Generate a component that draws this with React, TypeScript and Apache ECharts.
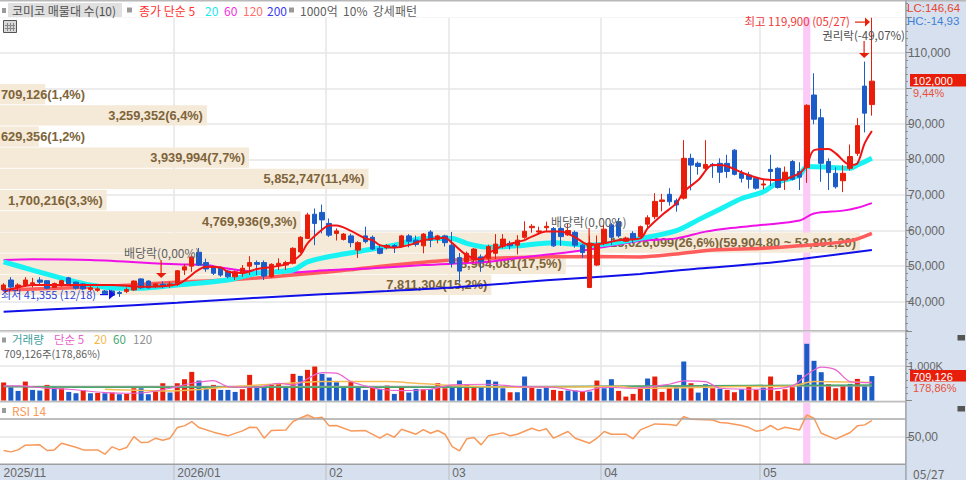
import React, { useEffect, useRef } from "react";
import * as echarts from "echarts";

const slotCount = 126;
const tickIndex = [0, 24, 45, 62, 83, 105];
const tickLabels = ["2025/11", "2026/01", "02", "03", "04", "05"];
const highlightIndex = 111;

// open, close, low, high in thousands of won
const candlesK = [
  [43.3,44.7,43.0,45.2],[46.1,44.1,43.7,46.9],[44.1,44.7,43.0,45.2],[44.7,46.1,44.2,46.9],[45.0,45.3,44.0,46.7],
  [46.1,45.5,44.9,46.9],[45.9,43.8,43.5,46.0],[44.0,45.1,43.8,45.4],[44.5,45.9,44.2,46.2],[46.7,45.0,44.6,47.0],
  [45.5,43.8,43.4,45.7],[45.0,43.6,43.2,45.2],[43.4,43.9,43.0,44.4],[43.2,43.6,42.8,44.1],[43.0,42.2,41.9,43.3],
  [43.0,41.8,41.6,43.3],[42.6,42.3,41.355,43.0],[42.9,43.4,42.4,44.0],[43.3,45.8,43.0,46.0],[46.4,43.9,43.6,46.6],
  [45.8,43.9,43.7,46.0],[44.4,45.0,43.8,45.2],[44.9,44.6,43.8,45.7],[44.5,45.0,43.9,45.6],[44.9,48.7,44.4,48.9],
  [48.9,49.8,47.5,50.6],[50.0,52.6,48.4,53.0],[53.9,50.3,50.0,55.1],[51.0,49.2,48.4,52.1],[49.8,48.0,47.5,50.1],
  [49.4,47.5,47.0,49.8],[48.6,47.0,46.6,48.9],[47.0,48.4,46.1,48.8],[48.0,49.4,47.0,50.3],[50.0,51.0,47.5,52.8],
  [51.0,50.5,47.5,51.6],[51.0,47.2,46.1,51.6],[47.0,50.5,46.7,50.8],[50.1,50.8,48.9,52.2],[50.3,51.0,48.9,51.5],
  [50.8,55.0,50.5,55.3],[54.0,58.1,53.7,58.4],[57.8,64.4,57.6,65.0],[64.6,62.0,55.9,66.2],[65.1,63.0,59.2,67.3],
  [62.0,58.7,58.2,63.4],[59.2,59.9,57.2,60.6],[57.5,59.0,57.2,59.3],[58.5,56.6,55.3,59.1],[54.5,56.6,52.3,57.0],
  [58.5,56.9,56.4,61.1],[58.1,54.8,54.5,58.6],[55.0,53.6,53.3,55.9],[55.2,55.8,54.7,56.2],[55.8,55.4,53.7,56.2],
  [55.5,58.5,55.2,58.8],[58.5,57.0,55.3,59.0],[57.3,56.1,55.5,58.6],[55.7,59.0,53.6,59.3],[59.6,57.3,55.3,60.1],
  [57.5,58.5,56.4,58.8],[58.5,56.6,55.5,58.8],[55.9,50.8,49.6,59.6],[52.4,48.6,45.3,53.7],[51.2,53.6,50.9,54.1],
  [51.9,54.8,50.9,55.1],[52.6,51.2,48.4,53.3],[52.2,55.5,50.9,56.0],[53.6,56.2,52.0,59.0],[55.6,57.6,55.0,59.0],
  [56.4,55.7,54.7,57.1],[55.9,57.3,53.3,58.7],[58.1,59.8,57.7,62.6],[60.8,61.2,59.4,61.8],[59.6,59.9,58.9,61.1],
  [60.8,61.2,59.6,62.5],[60.6,55.7,55.4,61.0],[60.6,58.3,55.7,61.1],[58.8,60.0,58.5,62.0],[59.5,55.9,55.2,60.0],
  [55.9,53.8,52.3,56.2],[44.0,56.5,43.8,58.5],[50.3,55.9,50.0,58.6],[56.4,60.4,55.9,61.6],[61.6,58.1,55.9,62.1],
  [62.5,58.5,58.0,63.5],[57.0,57.9,56.8,58.3],[59.2,57.5,56.4,59.8],[58.3,61.1,58.0,61.4],[61.8,63.6,60.6,64.3],
  [63.9,68.2,63.2,70.5],[68.2,68.6,65.4,70.3],[70.2,68.1,67.0,71.9],[68.4,67.2,65.3,69.0],[69.1,80.3,68.7,85.4],
  [80.3,78.4,71.3,81.6],[78.9,78.0,75.7,79.4],[77.5,78.6,76.9,85.4],[78.6,78.2,74.8,79.0],[78.9,76.4,73.4,80.3],
  [78.9,76.6,74.8,81.3],[82.6,75.8,75.5,82.9],[76.1,74.7,73.5,77.0],[75.6,74.4,71.8,76.5],[74.7,71.9,71.5,75.0],
  [72.8,73.1,71.6,74.2],[77.2,76.6,72.5,81.3],[77.5,72.1,71.8,77.8],[74.2,76.4,71.4,78.0],[79.4,74.4,74.1,79.8],
  [76.6,75.0,71.4,79.2],[77.7,95.2,73.4,95.5],[98.1,91.3,89.9,104.2],[91.7,78.9,73.7,94.2],[79.4,76.3,71.4,80.3],
  [76.1,72.3,71.8,77.8],[74.0,76.1,70.8,78.4],[77.5,80.8,76.9,84.2],[81.7,89.5,81.0,91.6],[100.6,93.0,87.6,107.5],
  [95.4,102.0,92.3,119.9],
];

// [candle index, value in thousands of won], as read at the line's visible turning points
const ma5K = [[0,42.8],[4,44.7],[15,44.7],[19,44.2],[24,44.9],[28,49.8],[30,49.6],[31,48.4],[33,48.1],[35,49.2],[39,50.5],[41,53.1],[42,56.4],[44,60.2],[45,61.4],[46,61.4],[48,59.9],[50,57.8],[51,57.3],[52,55.9],[54,55.2],[56,55.9],[58,57.3],[61,58.0],[62,56.5],[64,53.1],[66,51.9],[67,53.6],[69,55.7],[72,57.3],[73,58.3],[75,59.7],[77,59.7],[79,58.1],[81,55.9],[83,56.4],[85,57.3],[88,57.8],[89,60.6],[91,64.4],[93,67.7],[94,70.9],[96,74.2],[98,78.4],[100,78.1],[102,76.3],[105,74.4],[107,74.2],[110,76.1],[111,78.4],[112,82.6],[114,82.9],[115,81.7],[117,78.4],[118,78.9],[119,84.5],[120,88.0]];
const ma20K = [[0,51.2],[4,48.9],[9,46.1],[12,44.7],[16,43.8],[19,43.8],[24,44.7],[31,46.1],[35,48.0],[40,48.9],[42,51.2],[45,52.7],[49,54.1],[54,55.9],[58,57.8],[62,57.8],[64,56.4],[67,55.3],[71,55.7],[76,56.6],[81,55.9],[88,57.8],[93,60.0],[96,63.0],[99,66.0],[102,69.0],[105,70.9],[107,73.5],[110,75.6],[111,78.0],[114,77.8],[117,77.5],[118,78.4],[120,80.3]];
const ma60K = [[0,51.7],[4,51.9],[12,51.7],[24,50.5],[28,50.3],[30,49.6],[35,48.4],[40,48.3],[45,48.9],[51,49.4],[58,50.3],[67,51.2],[71,52.3],[81,54.7],[88,57.1],[93,57.8],[97,59.7],[100,60.6],[105,61.6],[110,62.8],[112,64.8],[116,65.6],[118,66.4],[120,67.7]];
const ma120K = [[0,43.3],[13,44.2],[24,45.5],[31,46.1],[44,48.2],[61,51.6],[82,52.7],[88,52.6],[93,53.4],[98,54.5],[105,55.0],[110,55.7],[117,57.1],[120,59.2]];
const ma200K = [[0,37.2],[12,38.4],[24,39.7],[34,41.0],[44,42.1],[53,43.0],[62,44.0],[75,46.0],[88,47.8],[96,49.3],[105,50.8],[111,52.2],[120,54.5]];

// volume in thousands of shares
const volumesK = [520,386,280,550,309,290,454,386,357,251,212,300,212,222,212,232,184,193,357,357,184,270,502,232,502,618,830,580,406,454,309,309,251,328,744,386,406,454,502,406,773,715,889,985,773,667,531,406,550,406,309,386,338,435,193,377,232,338,328,328,502,357,386,580,454,406,386,599,550,357,242,242,696,386,338,386,309,280,290,290,261,261,580,357,618,280,116,193,357,638,696,251,357,425,1130,502,232,473,357,338,309,242,328,435,309,377,696,280,328,386,744,1642,1150,821,473,357,425,483,628,435,709.126];
const volumeColors = "rbbrbbrbrbbrbrbrbrrbbrrbrrrbbrbbbrrbbrrbrbrrbbbbrbbrbrbrbbrbrrbbrrbbbbrbbrbbrrbbrbrbbrrrrbrrrbbrbbrbrrbrrbrrrrbbbbrrrbr";
const volMa5K = [[0,425],[2,425],[6,357],[9,328],[14,232],[18,212],[20,242],[23,357],[26,502],[29,580],[31,406],[35,386],[38,502],[40,454],[44,811],[46,792],[48,550],[50,425],[52,328],[55,290],[59,328],[62,454],[67,473],[71,406],[76,386],[80,261],[83,386],[87,357],[92,473],[94,570],[97,550],[99,357],[105,328],[109,425],[111,744],[113,966],[115,889],[117,550],[120,522]];
const volMa20K = [[14,328],[23,280],[32,406],[41,522],[44,550],[53,550],[57,502],[62,435],[71,386],[85,406],[88,357],[102,406],[109,425],[112,550],[120,522]];
const volMa60K = [[0,406],[10,386],[40,386],[60,386],[90,425],[120,454]];
const volMa120K = [[0,406],[60,406],[120,425]];

const rsiPoints = [[0,35.2],[1,33.7],[2,35.9],[3,41.1],[5,41.5],[6,35.2],[7,35.9],[8,43.3],[10,38.9],[11,35.9],[13,35.9],[14,31.1],[15,39.3],[16,35.9],[17,38.5],[18,50.7],[19,44.1],[20,44.5],[21,48.9],[22,46.7],[23,48.9],[24,60.7],[25,62.6],[26,67.4],[27,60.7],[29,55.6],[31,51.5],[33,57.0],[34,61.1],[35,60.7],[36,48.9],[37,57.4],[39,58.1],[40,67.4],[42,74.8],[43,71.1],[44,72.2],[45,62.6],[46,63.0],[48,57.0],[50,57.4],[52,48.9],[53,53.7],[54,50.0],[55,58.9],[57,53.3],[58,58.5],[59,54.4],[60,57.4],[61,53.3],[62,39.6],[63,34.8],[64,48.2],[65,49.6],[66,41.5],[67,51.5],[69,54.8],[70,51.5],[71,53.3],[73,60.0],[74,57.0],[75,59.3],[76,48.9],[78,56.3],[79,48.9],[81,43.3],[82,48.9],[83,56.3],[84,53.3],[86,53.3],[87,48.2],[88,58.1],[90,64.8],[92,64.1],[93,63.0],[94,72.9],[95,70.0],[98,69.2],[99,66.3],[100,65.9],[102,63.0],[103,60.7],[104,56.7],[105,58.1],[106,63.0],[107,58.1],[108,61.1],[110,58.1],[111,74.8],[112,71.1],[113,54.4],[115,47.8],[117,55.2],[118,62.6],[119,63.7],[120,68.5]];

// volume-at-price rows
const profilePct = [1.4,6.4,1.2,7.7,11.4,3.3,9.3,26.6,17.5,15.2];
const profileTopK = [101.2,95.24,89.28,83.32,77.36,71.4,65.44,59.48,53.52,47.56];
const profileBottomK = [95.5,89.54,83.58,77.62,71.66,65.7,59.74,53.78,47.82,41.86];
const profileLabels = ["709,126(1,4%)","3,259,352(6,4%)","629,356(1,2%)","3,939,994(7,7%)","5,852,747(11,4%)","1,700,216(3,3%)","4,769,936(9,3%)","13,626,099(26,6%)(59,904,80 ~ 53,891,20)","8,964,081(17,5%)","7,811,304(15,2%)"];

const priceTicks = [40000,50000,60000,70000,80000,90000,100000,110000,120000];
const hiddenPriceLabel = [100000, 120000];

const RED = "#e81e0a";
const BLUE = "#1c5cc8";
const GRID = "#e6e6e6";
const PANEL = "#d6e0ee";
const AXIS_TEXT = "#666666";
const FONT = '"Liberation Sans", "Noto Sans CJK KR", sans-serif';
const KFONT = '"Noto Sans CJK KR", "Liberation Sans", sans-serif';

const categories = Array.from({ length: slotCount }, (_, i) => String(i));
const won = (pts: number[][]) => pts.map(([i, v]) => [i, v * 1000]);
const isTick = (i: number) => tickIndex.includes(i);

function text(x: number, y: number, t: string, fill: string, size = 12, align = "left", font = KFONT, weight = "normal") {
  return {
    type: "text", x, y, z: 40, silent: true,
    style: { text: t, fill, align, verticalAlign: "middle", font: `${weight} ${size}px ${font}` },
  };
}
function rect(x: number, y: number, w: number, h: number, fill: string, z = 40) {
  return { type: "rect", z, silent: true, shape: { x, y, width: w, height: h }, style: { fill } };
}
function downArrow(x: number, y0: number, y1: number) {
  return [
    rect(x - 0.5, y0, 1.2, y1 - y0, RED),
    { type: "polygon", z: 40, silent: true, shape: { points: [[x - 5, y1 - 1], [x + 5.5, y1 - 1], [x + 0.2, y1 + 4]] }, style: { fill: RED } },
  ];
}

function highlightSeries(x: number, y: number) {
  return {
    type: "custom", xAxisIndex: x, yAxisIndex: y, z: 1, silent: true,
    data: [[highlightIndex]], encode: { x: 0 },
    renderItem: (params: any, api: any) => {
      const cx = api.coord([api.value(0), 0])[0];
      const w = api.size([1, 0])[0];
      const c = params.coordSys;
      return { type: "rect", shape: { x: cx - w / 2, y: c.y, width: w, height: c.height }, style: { fill: "#fccaf6" } };
    },
  };
}
function line(data: number[][], color: string, width: number, xi: number, yi: number, z: number) {
  return { type: "line", data, xAxisIndex: xi, yAxisIndex: yi, z, showSymbol: false, smooth: 0.3, silent: true, lineStyle: { color, width }, itemStyle: { color } };
}

export default function App() {
  const ref = useRef<HTMLDivElement | null>(null);
  useEffect(() => {
    document.body.style.margin = "0";
    document.body.style.background = "#fff";
    const chart = echarts.init(ref.current!, undefined, { renderer: "svg" });
    const xAxisBase = (gridIndex: number) => ({
      type: "category", gridIndex, data: categories, boundaryGap: true,
      axisLine: { show: false }, axisTick: { show: false }, axisLabel: { show: false },
      splitLine: { show: true, interval: (i: number) => isTick(i) && i > 0, lineStyle: { color: GRID, width: 1.5 } },
    });
    const option: any = {
      animation: false,
      backgroundColor: "#ffffff",
      grid: [
        { left: -1.825, width: 913.5, top: 2.87, height: 327.29 },
        { left: -1.825, width: 913.5, top: 331.4, height: 69.2 },
        { left: -1.825, width: 913.5, top: 403, height: 61.2 },
      ],
      xAxis: [
        xAxisBase(0),
        xAxisBase(1),
        {
          ...xAxisBase(2),
          axisTick: { show: true, length: 16, interval: (i: number) => isTick(i) && i > 0, lineStyle: { color: "#c4c8cf", width: 1.5 } },
          axisLabel: {
            show: true, interval: (i: number) => isTick(i), margin: 3, align: "left", color: AXIS_TEXT,
            fontSize: 12, fontFamily: FONT,
            formatter: (_: string, i: number) => tickLabels[tickIndex.indexOf(i)] ?? "",
          },
        },
        { type: "value", gridIndex: 0, min: 0, max: 28.2, show: false, splitLine: { show: false } },
      ],
      yAxis: [
        { // 0: main pane gridlines
          type: "value", gridIndex: 0, min: 32000, max: 124000, position: "right",
          axisLine: { show: false }, axisLabel: { show: false }, axisTick: { show: false, customValues: priceTicks },
          splitLine: { show: true, lineStyle: { color: GRID, width: 1.5 } },
        },
        { // 1: main pane labels
          type: "value", gridIndex: 0, min: 32000, max: 124000, position: "right", offset: -5.7, z: 20,
          axisLine: { show: false }, splitLine: { show: false },
          axisTick: { show: true, length: 6, customValues: priceTicks, lineStyle: { color: "#888" } },
          axisLabel: {
            show: true, customValues: priceTicks.filter((v) => !hiddenPriceLabel.includes(v)), margin: 2, color: AXIS_TEXT, fontSize: 12, fontFamily: FONT,
            formatter: (v: number) => v.toLocaleString("en-US"),
          },
        },
        { // 2: main pane minor ticks
          type: "value", gridIndex: 0, min: 32000, max: 124000, interval: 2000, position: "right", offset: -5.7, z: 20,
          axisLine: { show: false }, splitLine: { show: false }, axisLabel: { show: false },
          axisTick: { show: true, length: 2, lineStyle: { color: "#888" } },
        },
        { // 3: volume gridlines
          type: "value", gridIndex: 1, min: 0, max: 2000, interval: 1000, position: "right",
          axisLine: { show: false }, axisLabel: { show: false }, axisTick: { show: false },
          splitLine: { show: true, lineStyle: { color: GRID, width: 1.5 } },
        },
        { // 4: volume labels
          type: "value", gridIndex: 1, min: 0, max: 2000, interval: 1000, position: "right", offset: -5.7, z: 20,
          axisLine: { show: false }, splitLine: { show: false },
          axisTick: { show: true, length: 6, lineStyle: { color: "#888" } },
          minorTick: { show: true, splitNumber: 5, length: 2, lineStyle: { color: "#888" } },
          axisLabel: { show: true, margin: 2, color: AXIS_TEXT, fontSize: 11, fontFamily: FONT, formatter: (v: number) => (v === 1000 ? "1,000K" : "") },
        },
        { // 5: RSI gridlines
          type: "value", gridIndex: 2, min: 20, max: 88, position: "right",
          axisLine: { show: false }, axisLabel: { show: false }, axisTick: { show: false, customValues: [50] },
          splitLine: { show: true, lineStyle: { color: GRID, width: 1.5 } },
        },
        { // 6: RSI labels
          type: "value", gridIndex: 2, min: 20, max: 88, position: "right", offset: -5.7, z: 20,
          axisLine: { show: false }, splitLine: { show: false },
          axisTick: { show: true, length: 6, customValues: [50], lineStyle: { color: "#888" } },
          axisLabel: { show: true, customValues: [50], margin: 2, color: AXIS_TEXT, fontSize: 12, fontFamily: FONT, formatter: () => "50,00" },
        },
      ],
      series: [
        highlightSeries(0, 0),
        highlightSeries(1, 3),
        highlightSeries(2, 5),
        {
          type: "custom", xAxisIndex: 3, yAxisIndex: 0, z: 1, silent: true,
          data: profilePct.map((p, i) => [p, profileTopK[i] * 1000, profileBottomK[i] * 1000, i]),
          encode: { x: 0, y: [1, 2] },
          renderItem: (_: any, api: any) => {
            const tl = api.coord([0, api.value(1)]);
            const br = api.coord([api.value(0), api.value(2)]);
            const label = profileLabels[api.value(3)];
            const narrow = api.value(0) < 2;
            return {
              type: "group",
              children: [
                { type: "rect", shape: { x: tl[0], y: tl[1], width: br[0] - tl[0], height: br[1] - tl[1] }, style: { fill: "#f5e9d8" } },
                {
                  type: "text",
                  style: {
                    text: label, x: narrow ? 1 : br[0] - 4, y: (tl[1] + br[1]) / 2,
                    align: narrow ? "left" : "right", verticalAlign: "middle",
                    fill: "#7d6439", font: `bold 12.8px ${FONT}`,
                  },
                },
              ],
            };
          },
        },
        line(won(ma200K), "#1010e8", 2, 0, 0, 3),
        line(won(ma120K), "#ff5c5c", 3.5, 0, 0, 3),
        line(won(ma60K), "#f010e8", 2, 0, 0, 3),
        line(won(ma20K), "#19f2f2", 5, 0, 0, 3),
        {
          type: "candlestick", xAxisIndex: 0, yAxisIndex: 0, z: 4, silent: true, barWidth: 5,
          data: candlesK.map((r) => r.map((v) => v * 1000)),
          itemStyle: { color: RED, color0: BLUE, borderColor: RED, borderColor0: BLUE, borderWidth: 1 },
        },
        line(won(ma5K), "#f01414", 2, 0, 0, 5),
        {
          type: "bar", xAxisIndex: 1, yAxisIndex: 3, z: 3, silent: true, barWidth: 5,
          data: volumesK.map((v, i) => ({ value: v, itemStyle: { color: volumeColors[i] === "r" ? RED : BLUE } })),
        },
        line(volMa120K, "#a0a0a0", 1.5, 1, 3, 4),
        line(volMa60K, "#4aa86a", 1.5, 1, 3, 4),
        line(volMa20K, "#f5bc55", 1.5, 1, 3, 4),
        line(volMa5K, "#ea64d0", 1.2, 1, 3, 4),
        {
          ...line(rsiPoints, "#f8995a", 1.5, 2, 5, 4),
          smooth: false,
          markLine: { silent: true, symbol: "none", label: { show: false }, lineStyle: { color: "#a8a8a8", width: 1.5, type: "solid" }, data: [{ yAxis: 70 }] },
        },
        {
          ...line(rsiPoints.map(([i, v]) => [i, Math.max(v, 70)]), "transparent", 0, 2, 5, 3),
          smooth: false,
          areaStyle: { origin: 70, color: "#f4bd9c" },
        },
      ],
      graphic: [
        // right and bottom panels
        rect(906, 0, 60, 480, PANEL, 10),
        rect(0, 465, 966, 15, PANEL, -1),
        rect(0, 0, 966, 1.5, "#b8b8b8", 11),
        rect(0, 330, 906, 1.5, "#bdbdbd", 11),
        rect(0, 401, 906, 1.5, "#bdbdbd", 11),
        rect(0, 463.5, 906, 1.5, "#a0a0a0", 11),
        rect(905, 0, 1.8, 480, "#a8aeb6", 11),

        // header row
        rect(0, 2, 906, 15.5, "#ffffff", 8),
        rect(2, 8, 4, 5, "#9a9a9a"),
        rect(8, 3, 114, 14, "#e0e0e0"),
        text(12, 10, "코미코 매물대 수(10)", "#505050"),
        rect(127, 7.5, 5, 5, "#9a9a9a"),
        text(139, 10, "종가 단순 5", "#ff3030"),
        text(205, 10, "20", "#22e8f0"),
        text(224, 10, "60", "#f030e0"),
        text(243, 10, "120", "#ff7070"),
        text(267, 10, "200", "#3a3af0"),
        rect(289, 7.5, 5, 5, "#9a9a9a"),
        text(300, 10, "1000억  10%  강세패턴", "#606060", 12),

        // small table icon
        { type: "rect", z: 40, silent: true, shape: { x: 3.5, y: 20.5, width: 13, height: 12 }, style: { fill: "#d8d8d8", stroke: "#555", lineWidth: 1 } },
        rect(7, 23, 1, 8, "#888"), rect(10, 23, 1, 8, "#888"), rect(13, 23, 1, 8, "#888"),
        rect(5, 25, 10, 1, "#888"), rect(5, 28, 10, 1, "#888"),

        // right panel readouts
        text(907, 8, "LC:146,64", "#e8442e", 11.5, "left", FONT),
        text(907, 20.5, "HC:-14,93", "#3c7fd8", 11.5, "left", FONT),
        rect(910, 74, 56, 12.5, RED),
        text(913, 80.5, "102,000", "#ffffff", 11, "left", FONT),
        text(913, 92.5, "9,44%", "#e8503c", 11, "left", FONT),
        rect(910, 370, 56, 11.5, RED),
        text(913, 376.5, "709,126", "#ffffff", 11, "left", FONT),
        text(913, 388, "178,86%", "#e8503c", 11, "left", FONT),
        rect(957.5, 335, 7.5, 5.5, "#555"),
        rect(957.5, 406, 7.5, 5.5, "#555"),
        text(913, 473, "05/27", AXIS_TEXT),

        // annotations
        text(850, 21, "최고 119,900 (05/27)", "#f03a3a", 11.5, "right"),
        rect(855, 21.5, 10, 1.2, RED),
        { type: "polygon", z: 40, silent: true, shape: { points: [[865, 17.5], [865, 26.5], [870, 22]] }, style: { fill: RED } },
        text(905, 34.5, "권리락(-49,07%)", "#505050", 11.5, "right"),
        ...downArrow(864, 41, 54),
        text(124, 252, "배당락(0,00%)", "#606060"),
        ...downArrow(161, 260, 274),
        text(551, 221, "배당락(0,00%)", "#606060"),
        ...downArrow(589, 228, 244),
        text(96, 294, "최저 41,355 (12/18)", "#2a3ed8", 11, "right"),
        rect(100, 294, 8, 1.2, "#1414e6"),
        { type: "polygon", z: 40, silent: true, shape: { points: [[109, 289.5], [109, 299.5], [115, 294.5]] }, style: { fill: "#1414e6" } },

        // volume and RSI legends
        rect(2, 337.5, 4, 5, "#9a9a9a"),
        text(12, 339, "거래량", "#3e9f9f", 11.5),
        text(54, 339, "단순 5", "#e860c8", 11.5),
        text(94, 339, "20", "#f5b648", 11.5),
        text(113, 339, "60", "#46a870", 11.5),
        text(133, 339, "120", "#909090", 11.5),
        text(4, 353.5, "709,126주(178,86%)", "#606060", 10.5),
        rect(2, 408, 4, 5, "#9a9a9a"),
        text(12, 410, "RSI 14", "#f8995a"),
      ],
    };
    chart.setOption(option);
    return () => chart.dispose();
  }, []);
  return <div ref={ref} style={{ position: "fixed", left: 0, top: 0, width: 966, height: 480 }} />;
}
